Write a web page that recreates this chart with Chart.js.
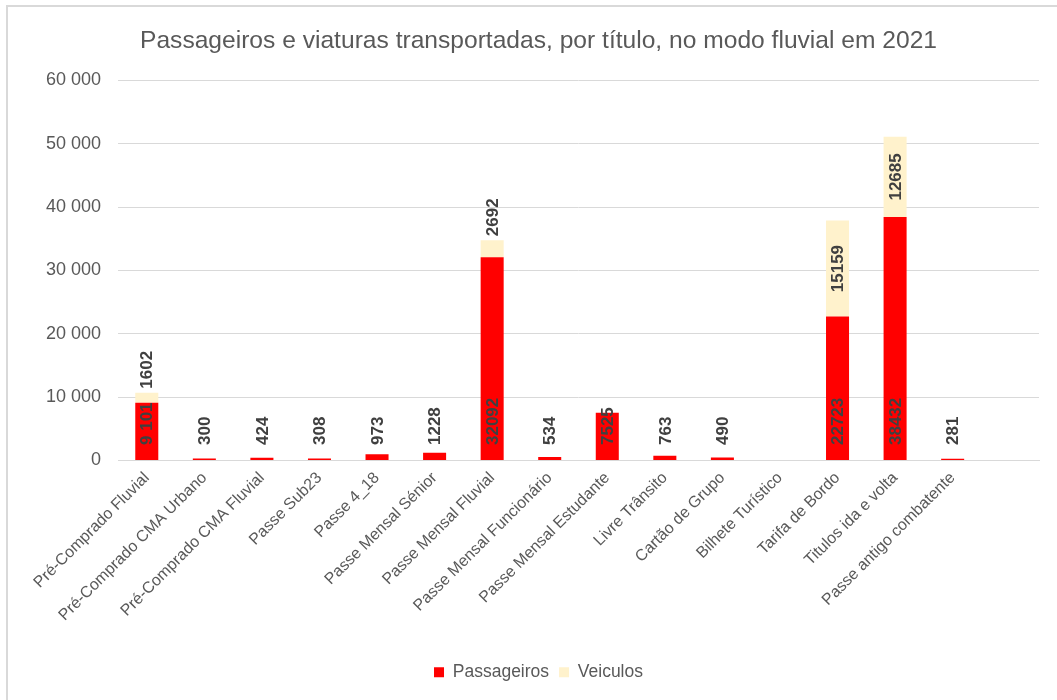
<!DOCTYPE html>
<html lang="pt">
<head>
<meta charset="UTF-8">
<title>Passageiros e viaturas transportadas</title>
<script src="https://cdn.jsdelivr.net/npm/chart.js"></script>
<style>
    html, body { margin: 0; padding: 0; background: #fff; }
    #frame { position: absolute; left: 6px; top: 5px; width: 1100px; height: 760px; border: 2px solid #D9D9D9; box-sizing: border-box; }
    #wrap { position: absolute; left: 0; top: 0; width: 1057px; height: 700px; }
</style>
</head>
<body>
<div id="frame"></div>
<div id="wrap"><canvas id="fluvial"></canvas></div>

<script>
// categorias (a ultima esta vazia no original)
const categorias = [
    'Pré-Comprado Fluvial', 'Pré-Comprado CMA Urbano', 'Pré-Comprado CMA Fluvial', 'Passe Sub23',
    'Passe 4_18', 'Passe Mensal Sénior', 'Passe Mensal Fluvial', 'Passe Mensal Funcionário',
    'Passe Mensal Estudante', 'Livre Trânsito', 'Cartão de Grupo', 'Bilhete Turístico',
    'Tarifa de Bordo', 'Titulos ida e volta', 'Passe antigo combatente', ''
];
const passageiros = [9101, 300, 424, 308, 973, 1228, 32092, 534, 7525, 763, 490, null, 22723, 38432, 281, null];
const veiculos    = [1602, null, null, null, null, null, 2692, null, null, null, null, null, 15159, 12685, null, null];
const yTicks = [0, 10000, 20000, 30000, 40000, 50000, 60000];
// so este rotulo aparece com separador de milhares
const rotulosAgrupados = [0];

function espacos(v) {
    return String(v).replace(/\B(?=(\d{3})+(?!\d))/g, ' ');
}

const rotulosBarras = {
    id: 'rotulosBarras',
    afterDatasetsDraw(chart) {
        const ctx = chart.ctx;
        ctx.save();
        ctx.font = 'bold 17px "Liberation Sans", Arial, sans-serif';
        ctx.fillStyle = '#404040';
        ctx.textBaseline = 'middle';
        ctx.textAlign = 'left';
        chart.data.datasets.forEach((ds, di) => {
            const meta = chart.getDatasetMeta(di);
            meta.data.forEach((bar, i) => {
                const v = ds.data[i];
                if (v == null) return;
                const txt = (di === 0 && rotulosAgrupados.includes(i)) ? espacos(v) : String(v);
                const w = ctx.measureText(txt).width;
                let yStart;
                if (di === 0) {
                    yStart = bar.base - 15;
                } else {
                    const h = bar.base - bar.y;
                    if (h > w + 10) yStart = (bar.base + bar.y) / 2 + w / 2;
                    else yStart = bar.y - 4;
                }
                ctx.save();
                ctx.translate(bar.x, yStart);
                ctx.rotate(-Math.PI / 2);
                ctx.fillText(txt, 0, 1);
                ctx.restore();
            });
        });
        ctx.restore();
    }
};

document.addEventListener('DOMContentLoaded', function () {
    const ctx = document.getElementById('fluvial').getContext('2d');
    new Chart(ctx, {
        type: 'bar',
        data: {
            labels: categorias,
            datasets: [{
                label: 'Passageiros',
                data: passageiros,
                backgroundColor: '#FF0000',
                barPercentage: 0.4,
                categoryPercentage: 1
            }, {
                label: 'Veiculos',
                data: veiculos,
                backgroundColor: '#FFF2CC',
                barPercentage: 0.4,
                categoryPercentage: 1
            }]
        },
        options: {
            responsive: true,
            maintainAspectRatio: false,
            animation: false,
            layout: { padding: { left: 20, right: 0, top: 0, bottom: 9 } },
            plugins: {
                title: {
                    display: true,
                    text: 'Passageiros e viaturas transportadas, por título, no modo fluvial em 2021',
                    color: '#595959',
                    font: { size: 24.6, family: '"Liberation Sans", Arial, sans-serif', weight: 'normal' },
                    padding: { top: 26, bottom: 25 }
                },
                legend: {
                    position: 'bottom',
                    labels: {
                        boxWidth: 10,
                        boxHeight: 10,
                        color: '#595959',
                        font: { size: 17.5, family: '"Liberation Sans", Arial, sans-serif' },
                        padding: 10
                    }
                },
                tooltip: { enabled: false }
            },
            scales: {
                x: {
                    stacked: true,
                    afterFit(scale) { scale.height = 193; },
                    grid: { display: false, drawTicks: false },
                    border: { color: '#D9D9D9', width: 1 },
                    ticks: {
                        autoSkip: false,
                        minRotation: 45,
                        maxRotation: 45,
                        padding: 8,
                        color: '#595959',
                        font: { size: 16, family: '"Liberation Sans", Arial, sans-serif' }
                    }
                },
                y: {
                    stacked: true,
                    min: 0,
                    max: 60000,
                    afterFit(scale) { scale.width = 98; },
                    afterBuildTicks(scale) { scale.ticks = yTicks.map(v => ({ value: v })); },
                    grid: { color: '#D9D9D9', lineWidth: 1, drawTicks: false },
                    border: { display: false },
                    ticks: {
                        padding: 17,
                        color: '#595959',
                        font: { size: 18, family: '"Liberation Sans", Arial, sans-serif' },
                        callback: v => espacos(v)
                    }
                },
                // eixo vazio a direita, so para reservar a margem
                margem: {
                    type: 'linear',
                    position: 'right',
                    grid: { display: false, drawTicks: false },
                    border: { display: false },
                    ticks: { display: false },
                    afterFit(scale) { scale.width = 18; }
                }
            }
        },
        plugins: [rotulosBarras]
    });
});
</script>
</body>
</html>
